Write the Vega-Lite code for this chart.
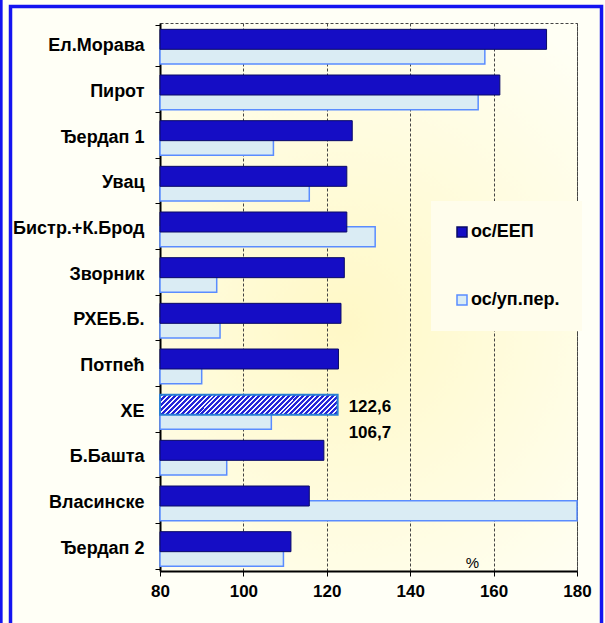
{
  "$schema": "https://vega.github.io/schema/vega-lite/v6.json",
  "width": 417,
  "height": 548,
  "autosize": "none",
  "padding": {"left": 160, "top": 23, "right": 28, "bottom": 52},
  "background": "#FFFFF6",
  "config": {
    "locale": {"number": {"decimal": ",", "thousands": ".", "grouping": [3], "currency": ["", " €"]}},
    "font": "Liberation Sans",
    "view": {
      "stroke": "#444444", "strokeDash": [3, 2], "strokeWidth": 1,
      "fill": {
        "gradient": "radial",
        "x1": 0.45, "y1": 0.55, "r1": 0,
        "x2": 0.45, "y2": 0.55, "r2": 0.65,
        "stops": [{"offset": 0, "color": "#FFF8C6"}, {"offset": 1, "color": "#FFFFF4"}]
      }
    },
    "legend": {
      "orient": "none", "legendX": 271, "legendY": 178, "title": " ",
      "titleFontSize": 4, "titlePadding": 14,
      "symbolType": "square", "symbolSize": 100, "symbolStrokeWidth": 1.5,
      "labelFontSize": 18, "labelFontWeight": "bold", "labelColor": "#000000",
      "labelOffset": 0, "rowPadding": 50, "padding": 22, "fillColor": "#FFFDEC"
    }
  },
  "data": {
    "values": [
      {"station": "Ел.Морава", "series": "ос/ЕЕП", "value": 172.7},
      {"station": "Ел.Морава", "series": "ос/уп.пер.", "value": 157.9},
      {"station": "Пирот", "series": "ос/ЕЕП", "value": 161.5},
      {"station": "Пирот", "series": "ос/уп.пер.", "value": 156.3},
      {"station": "Ђердап 1", "series": "ос/ЕЕП", "value": 126.1},
      {"station": "Ђердап 1", "series": "ос/уп.пер.", "value": 107.2},
      {"station": "Увац", "series": "ос/ЕЕП", "value": 124.8},
      {"station": "Увац", "series": "ос/уп.пер.", "value": 115.8},
      {"station": "Бистр.+К.Брод", "series": "ос/ЕЕП", "value": 124.8},
      {"station": "Бистр.+К.Брод", "series": "ос/уп.пер.", "value": 131.6},
      {"station": "Зворник", "series": "ос/ЕЕП", "value": 124.2},
      {"station": "Зворник", "series": "ос/уп.пер.", "value": 93.6},
      {"station": "РХЕБ.Б.", "series": "ос/ЕЕП", "value": 123.4},
      {"station": "РХЕБ.Б.", "series": "ос/уп.пер.", "value": 94.4},
      {"station": "Потпећ", "series": "ос/ЕЕП", "value": 122.8},
      {"station": "Потпећ", "series": "ос/уп.пер.", "value": 90.0},
      {"station": "ХЕ", "series": "ос/ЕЕП", "value": 122.6},
      {"station": "ХЕ", "series": "ос/уп.пер.", "value": 106.7},
      {"station": "Б.Башта", "series": "ос/ЕЕП", "value": 119.3},
      {"station": "Б.Башта", "series": "ос/уп.пер.", "value": 96.0},
      {"station": "Власинске", "series": "ос/ЕЕП", "value": 115.8},
      {"station": "Власинске", "series": "ос/уп.пер.", "value": 180},
      {"station": "Ђердап  2", "series": "ос/ЕЕП", "value": 111.4},
      {"station": "Ђердап  2", "series": "ос/уп.пер.", "value": 109.6}
    ]
  },
  "resolve": {"scale": {"y": "independent"}},
  "layer": [
    {
      "layer": [
        {
          "transform": [{"filter": "datum.series === 'ос/уп.пер.'"}],
          "mark": {"type": "bar", "height": 20, "yOffset": 8.2, "strokeWidth": 1.5},
          "encoding": {
            "y": {
              "field": "station", "type": "nominal", "sort": null,
              "axis": {
                "title": null, "tickBand": "extent", "tickSize": 5, "tickColor": "#000000",
                "domainColor": "#000000", "domainWidth": 2, "labelPadding": 11,
                "labelFontSize": 18, "labelFontWeight": "bold",
                "labelColor": "#000000", "labelLimit": 200, "grid": false
              }
            },
            "x": {
              "field": "value", "type": "quantitative",
              "scale": {"domain": [80, 180], "nice": false, "zero": false},
              "axis": {
                "values": [80, 100, 120, 140, 160, 180], "labelFlush": false,
                "grid": true, "gridDash": [3, 2], "gridColor": "#444444", "gridWidth": 1,
                "tickSize": 5, "tickColor": "#000000", "domainColor": "#000000", "domainWidth": 2,
                "labelPadding": 7, "labelFontSize": 17,
                "labelFontWeight": "bold", "labelColor": "#000000",
                "title": "%", "titleX": 312, "titleY": -9, "titleBaseline": "middle", "titleAlign": "center",
                "titleFontSize": 15, "titleFontWeight": "normal", "titleColor": "#000000"
              }
            },
            "x2": {"datum": 80},
            "fill": {"field": "series", "type": "nominal", "scale": {"domain": ["ос/ЕЕП", "ос/уп.пер."], "range": ["#150DC5", "#DAECF4"]}},
            "stroke": {"field": "series", "type": "nominal", "scale": {"domain": ["ос/ЕЕП", "ос/уп.пер."], "range": ["#0A0A66", "#5A8CFF"]}}
          }
        },
        {
          "transform": [{"filter": "datum.series === 'ос/ЕЕП' && datum.station !== 'ХЕ'"}],
          "mark": {"type": "bar", "height": 20, "yOffset": -6.5, "strokeWidth": 1},
          "encoding": {
            "y": {"field": "station", "type": "nominal", "sort": null},
            "x": {"field": "value", "type": "quantitative"},
            "x2": {"datum": 80},
            "fill": {"field": "series", "type": "nominal"},
            "stroke": {"field": "series", "type": "nominal"}
          }
        },
        {
          "transform": [{"filter": "datum.series === 'ос/ЕЕП' && datum.station === 'ХЕ'"}],
          "mark": {
            "type": "bar", "height": 20, "yOffset": -6.5, "strokeWidth": 2, "stroke": "#2A7FD4",
            "fill": {
              "gradient": "linear", "x1": 0, "y1": 0, "x2": 1.0985, "y2": 0.1234,
              "stops": [
                {"offset": 0, "color": "#2323D8"}, {"offset": 0.015, "color": "#2323D8"}, {"offset": 0.015, "color": "#F4F4FF"}, {"offset": 0.025, "color": "#F4F4FF"},
                {"offset": 0.025, "color": "#2323D8"}, {"offset": 0.04, "color": "#2323D8"}, {"offset": 0.04, "color": "#F4F4FF"}, {"offset": 0.05, "color": "#F4F4FF"},
                {"offset": 0.05, "color": "#2323D8"}, {"offset": 0.065, "color": "#2323D8"}, {"offset": 0.065, "color": "#F4F4FF"}, {"offset": 0.075, "color": "#F4F4FF"},
                {"offset": 0.075, "color": "#2323D8"}, {"offset": 0.09, "color": "#2323D8"}, {"offset": 0.09, "color": "#F4F4FF"}, {"offset": 0.1, "color": "#F4F4FF"},
                {"offset": 0.1, "color": "#2323D8"}, {"offset": 0.115, "color": "#2323D8"}, {"offset": 0.115, "color": "#F4F4FF"}, {"offset": 0.125, "color": "#F4F4FF"},
                {"offset": 0.125, "color": "#2323D8"}, {"offset": 0.14, "color": "#2323D8"}, {"offset": 0.14, "color": "#F4F4FF"}, {"offset": 0.15, "color": "#F4F4FF"},
                {"offset": 0.15, "color": "#2323D8"}, {"offset": 0.165, "color": "#2323D8"}, {"offset": 0.165, "color": "#F4F4FF"}, {"offset": 0.175, "color": "#F4F4FF"},
                {"offset": 0.175, "color": "#2323D8"}, {"offset": 0.19, "color": "#2323D8"}, {"offset": 0.19, "color": "#F4F4FF"}, {"offset": 0.2, "color": "#F4F4FF"},
                {"offset": 0.2, "color": "#2323D8"}, {"offset": 0.215, "color": "#2323D8"}, {"offset": 0.215, "color": "#F4F4FF"}, {"offset": 0.225, "color": "#F4F4FF"},
                {"offset": 0.225, "color": "#2323D8"}, {"offset": 0.24, "color": "#2323D8"}, {"offset": 0.24, "color": "#F4F4FF"}, {"offset": 0.25, "color": "#F4F4FF"},
                {"offset": 0.25, "color": "#2323D8"}, {"offset": 0.265, "color": "#2323D8"}, {"offset": 0.265, "color": "#F4F4FF"}, {"offset": 0.275, "color": "#F4F4FF"},
                {"offset": 0.275, "color": "#2323D8"}, {"offset": 0.29, "color": "#2323D8"}, {"offset": 0.29, "color": "#F4F4FF"}, {"offset": 0.3, "color": "#F4F4FF"},
                {"offset": 0.3, "color": "#2323D8"}, {"offset": 0.315, "color": "#2323D8"}, {"offset": 0.315, "color": "#F4F4FF"}, {"offset": 0.325, "color": "#F4F4FF"},
                {"offset": 0.325, "color": "#2323D8"}, {"offset": 0.34, "color": "#2323D8"}, {"offset": 0.34, "color": "#F4F4FF"}, {"offset": 0.35, "color": "#F4F4FF"},
                {"offset": 0.35, "color": "#2323D8"}, {"offset": 0.365, "color": "#2323D8"}, {"offset": 0.365, "color": "#F4F4FF"}, {"offset": 0.375, "color": "#F4F4FF"},
                {"offset": 0.375, "color": "#2323D8"}, {"offset": 0.39, "color": "#2323D8"}, {"offset": 0.39, "color": "#F4F4FF"}, {"offset": 0.4, "color": "#F4F4FF"},
                {"offset": 0.4, "color": "#2323D8"}, {"offset": 0.415, "color": "#2323D8"}, {"offset": 0.415, "color": "#F4F4FF"}, {"offset": 0.425, "color": "#F4F4FF"},
                {"offset": 0.425, "color": "#2323D8"}, {"offset": 0.44, "color": "#2323D8"}, {"offset": 0.44, "color": "#F4F4FF"}, {"offset": 0.45, "color": "#F4F4FF"},
                {"offset": 0.45, "color": "#2323D8"}, {"offset": 0.465, "color": "#2323D8"}, {"offset": 0.465, "color": "#F4F4FF"}, {"offset": 0.475, "color": "#F4F4FF"},
                {"offset": 0.475, "color": "#2323D8"}, {"offset": 0.49, "color": "#2323D8"}, {"offset": 0.49, "color": "#F4F4FF"}, {"offset": 0.5, "color": "#F4F4FF"},
                {"offset": 0.5, "color": "#2323D8"}, {"offset": 0.515, "color": "#2323D8"}, {"offset": 0.515, "color": "#F4F4FF"}, {"offset": 0.525, "color": "#F4F4FF"},
                {"offset": 0.525, "color": "#2323D8"}, {"offset": 0.54, "color": "#2323D8"}, {"offset": 0.54, "color": "#F4F4FF"}, {"offset": 0.55, "color": "#F4F4FF"},
                {"offset": 0.55, "color": "#2323D8"}, {"offset": 0.565, "color": "#2323D8"}, {"offset": 0.565, "color": "#F4F4FF"}, {"offset": 0.575, "color": "#F4F4FF"},
                {"offset": 0.575, "color": "#2323D8"}, {"offset": 0.59, "color": "#2323D8"}, {"offset": 0.59, "color": "#F4F4FF"}, {"offset": 0.6, "color": "#F4F4FF"},
                {"offset": 0.6, "color": "#2323D8"}, {"offset": 0.615, "color": "#2323D8"}, {"offset": 0.615, "color": "#F4F4FF"}, {"offset": 0.625, "color": "#F4F4FF"},
                {"offset": 0.625, "color": "#2323D8"}, {"offset": 0.64, "color": "#2323D8"}, {"offset": 0.64, "color": "#F4F4FF"}, {"offset": 0.65, "color": "#F4F4FF"},
                {"offset": 0.65, "color": "#2323D8"}, {"offset": 0.665, "color": "#2323D8"}, {"offset": 0.665, "color": "#F4F4FF"}, {"offset": 0.675, "color": "#F4F4FF"},
                {"offset": 0.675, "color": "#2323D8"}, {"offset": 0.69, "color": "#2323D8"}, {"offset": 0.69, "color": "#F4F4FF"}, {"offset": 0.7, "color": "#F4F4FF"},
                {"offset": 0.7, "color": "#2323D8"}, {"offset": 0.715, "color": "#2323D8"}, {"offset": 0.715, "color": "#F4F4FF"}, {"offset": 0.725, "color": "#F4F4FF"},
                {"offset": 0.725, "color": "#2323D8"}, {"offset": 0.74, "color": "#2323D8"}, {"offset": 0.74, "color": "#F4F4FF"}, {"offset": 0.75, "color": "#F4F4FF"},
                {"offset": 0.75, "color": "#2323D8"}, {"offset": 0.765, "color": "#2323D8"}, {"offset": 0.765, "color": "#F4F4FF"}, {"offset": 0.775, "color": "#F4F4FF"},
                {"offset": 0.775, "color": "#2323D8"}, {"offset": 0.79, "color": "#2323D8"}, {"offset": 0.79, "color": "#F4F4FF"}, {"offset": 0.8, "color": "#F4F4FF"},
                {"offset": 0.8, "color": "#2323D8"}, {"offset": 0.815, "color": "#2323D8"}, {"offset": 0.815, "color": "#F4F4FF"}, {"offset": 0.825, "color": "#F4F4FF"},
                {"offset": 0.825, "color": "#2323D8"}, {"offset": 0.84, "color": "#2323D8"}, {"offset": 0.84, "color": "#F4F4FF"}, {"offset": 0.85, "color": "#F4F4FF"},
                {"offset": 0.85, "color": "#2323D8"}, {"offset": 0.865, "color": "#2323D8"}, {"offset": 0.865, "color": "#F4F4FF"}, {"offset": 0.875, "color": "#F4F4FF"},
                {"offset": 0.875, "color": "#2323D8"}, {"offset": 0.89, "color": "#2323D8"}, {"offset": 0.89, "color": "#F4F4FF"}, {"offset": 0.9, "color": "#F4F4FF"},
                {"offset": 0.9, "color": "#2323D8"}, {"offset": 0.915, "color": "#2323D8"}, {"offset": 0.915, "color": "#F4F4FF"}, {"offset": 0.925, "color": "#F4F4FF"},
                {"offset": 0.925, "color": "#2323D8"}, {"offset": 0.94, "color": "#2323D8"}, {"offset": 0.94, "color": "#F4F4FF"}, {"offset": 0.95, "color": "#F4F4FF"},
                {"offset": 0.95, "color": "#2323D8"}, {"offset": 0.965, "color": "#2323D8"}, {"offset": 0.965, "color": "#F4F4FF"}, {"offset": 0.975, "color": "#F4F4FF"},
                {"offset": 0.975, "color": "#2323D8"}, {"offset": 0.99, "color": "#2323D8"}, {"offset": 0.99, "color": "#F4F4FF"}, {"offset": 1, "color": "#F4F4FF"}
              ]
            }
          },
          "encoding": {
            "y": {"field": "station", "type": "nominal", "sort": null},
            "x": {"field": "value", "type": "quantitative"},
            "x2": {"datum": 80}
          }
        },
        {
          "transform": [{"filter": "datum.series === 'ос/ЕЕП' && datum.station === 'ХЕ'"}],
          "mark": {"type": "text", "align": "left", "baseline": "middle", "dx": 11, "yOffset": -4.2, "fontSize": 17, "fontWeight": "bold", "color": "#000000"},
          "encoding": {
            "y": {"field": "station", "type": "nominal", "sort": null},
            "x": {"field": "value", "type": "quantitative"},
            "text": {"field": "value", "type": "quantitative", "format": ".1f"}
          }
        },
        {
          "transform": [
            {"filter": "datum.station === 'ХЕ'"},
            {"joinaggregate": [{"op": "max", "field": "value", "as": "xpos"}]},
            {"filter": "datum.series === 'ос/уп.пер.'"}
          ],
          "mark": {"type": "text", "align": "left", "baseline": "middle", "dx": 11, "yOffset": 21.4, "fontSize": 17, "fontWeight": "bold", "color": "#000000"},
          "encoding": {
            "y": {"field": "station", "type": "nominal", "sort": null},
            "x": {"field": "xpos", "type": "quantitative"},
            "text": {"field": "value", "type": "quantitative", "format": ".1f"}
          }
        }
      ]
    },
    {
      "data": {"values": [{}]},
      "layer": [
        {
          "mark": {"type": "rect", "fill": "#FFFFFF", "fillOpacity": 0, "stroke": "#1414F0", "strokeWidth": 3.5, "clip": false},
          "encoding": {
            "x": {"datum": 44.15, "type": "quantitative"},
            "x2": {"datum": 185.88},
            "y": {"datum": 1.0301, "type": "quantitative", "scale": {"domain": [0, 1], "nice": false, "zero": false}, "axis": null},
            "y2": {"datum": -0.2}
          }
        },
        {
          "mark": {"type": "rule", "stroke": "#1414F0", "strokeWidth": 2.7, "clip": false},
          "encoding": {
            "x": {"datum": 41.94, "type": "quantitative"},
            "y": {"datum": 1.2, "type": "quantitative", "axis": null},
            "y2": {"datum": -0.2}
          }
        }
      ]
    }
  ]
}
